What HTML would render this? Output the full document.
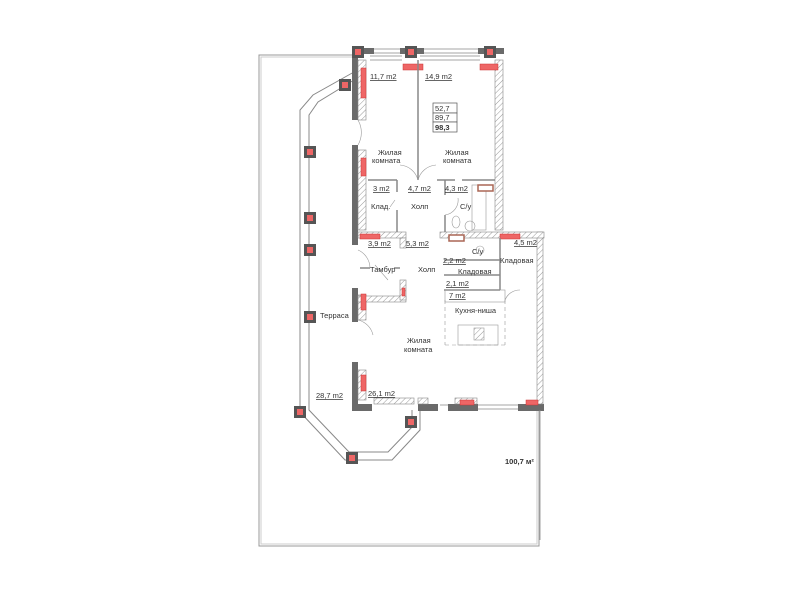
<!DOCTYPE html>
<html><head><meta charset="utf-8"><style>
html,body{margin:0;padding:0;background:#fff;width:800px;height:600px;overflow:hidden}
svg{display:block}
text{font-family:"Liberation Sans",sans-serif;font-size:7.5px;fill:#333}
.u{text-decoration:underline}
</style></head><body>
<svg width="800" height="600" viewBox="0 0 800 600">
<defs>
<pattern id="h" width="4" height="4" patternUnits="userSpaceOnUse" patternTransform="rotate(45)"><rect width="4" height="4" fill="#fff"/><line x1="0" y1="0" x2="0" y2="4" stroke="#999" stroke-width="1"/></pattern>
<g id="col"><rect x="-6" y="-6" width="12" height="12" fill="#555"/><rect x="-3" y="-3" width="6" height="6" fill="#e66"/></g>
</defs>
<g fill="none" stroke="#999" stroke-width="1">
<path d="M355 55 H259 V546 H539 V410"/>
<path d="M355 57 H261 V544 H537 V410" stroke="#ccc"/>
</g>
<g fill="none" stroke="#888" stroke-width="1">
<path d="M354 72 L313 95 L300 110 V412 L345 460 H392 L420 430 V410"/>
<path d="M354 80 L318 102 L309 115 V410 L349 452 H388 L412 427 V410"/>
</g>
<g fill="#6a6a6a">
<rect x="352" y="50" width="6" height="70"/>
<rect x="352" y="145" width="6" height="100"/>
<rect x="352" y="288" width="6" height="34"/>
<rect x="352" y="362" width="6" height="48"/>
<rect x="352" y="404" width="20" height="7"/>
<rect x="352" y="48" width="22" height="6"/>
<rect x="400" y="48" width="24" height="6"/>
<rect x="478" y="48" width="26" height="6"/>
<rect x="418" y="404" width="20" height="7"/>
<rect x="448" y="404" width="30" height="7"/>
<rect x="518" y="404" width="26" height="7"/>
</g>
<g fill="url(#h)" stroke="#888" stroke-width="0.6">
<rect x="358" y="60" width="8" height="60"/>
<rect x="358" y="150" width="8" height="80"/>
<rect x="358" y="295" width="8" height="25"/>
<rect x="358" y="370" width="8" height="30"/>
<rect x="495" y="60" width="8" height="170"/>
<rect x="537" y="232" width="6" height="172"/>
<rect x="358" y="232" width="48" height="6"/>
<rect x="440" y="232" width="104" height="6"/>
<rect x="358" y="296" width="48" height="6"/>
<rect x="400" y="238" width="6" height="10"/>
<rect x="400" y="280" width="6" height="20"/>
<rect x="374" y="398" width="40" height="6"/>
<rect x="418" y="398" width="10" height="6"/>
<rect x="455" y="398" width="22" height="6"/>
</g>
<g stroke="#888" stroke-width="0.8" fill="none">
<path d="M374 49 H400 M374 53 H400 M424 49 H478 M424 53 H478"/>
<path d="M370 56 H402 M370 60 H402 M420 56 H480 M420 60 H480"/>
<path d="M440 405 H448 M478 405 H518 M478 409 H518"/>
<path d="M540 410 V540"/>
</g>
<g fill="#e66" stroke="#c33" stroke-width="0.5">
<rect x="361" y="68" width="5" height="30"/>
<rect x="361" y="158" width="5" height="18"/>
<rect x="361" y="294" width="5" height="16"/>
<rect x="361" y="375" width="5" height="16"/>
<rect x="403" y="64" width="20" height="6"/>
<rect x="480" y="64" width="18" height="6"/>
<rect x="360" y="234" width="20" height="5"/>
<rect x="500" y="234" width="20" height="5"/>
<rect x="460" y="400" width="14" height="5"/>
<rect x="526" y="400" width="12" height="5"/>
<rect x="402" y="288" width="3" height="8"/>
</g>
<g stroke="#888" stroke-width="1.5" fill="none">
<path d="M418 60 V180"/>
<path d="M368 180 H397 M437 180 H455 M462 180 H495"/>
<path d="M397 180 V192 M397 210 V232"/>
<path d="M445 180 V195 M445 215 V232"/>
<path d="M444 260 H500 M444 275 H500 M444 290 H500"/>
<path d="M500 238 V290"/>
<path d="M360 268 H370 M394 268 H400"/>
</g>
<g stroke="#999" stroke-width="0.6" fill="none">
<path d="M358 120 A25 25 0 0 1 358 145 M375 265 L388 280 M418 180 A20 20 0 0 0 400 165 M418 180 A20 20 0 0 1 436 165 M390 207 L395 200 M445 215 A15 15 0 0 0 458 198 M358 320 A20 20 0 0 1 373 335 M358 250 A20 20 0 0 1 370 268 M520 290 A16 16 0 0 0 505 300"/>
<path d="M445 300 V345 M505 300 V345 M445 345 H505" stroke-dasharray="4 3"/>
<rect x="458" y="325" width="40" height="20"/>
<rect x="474" y="328" width="10" height="12" fill="url(#h)"/>
<rect x="445" y="290" width="60" height="12"/>
<rect x="472" y="185" width="14" height="45"/>
<ellipse cx="456" cy="222" rx="4" ry="6"/>
<circle cx="470" cy="226" r="5"/>
<circle cx="480" cy="250" r="4"/>
</g>
<g fill="#fff" stroke="#a65" stroke-width="1.5">
<rect x="478" y="185" width="15" height="6"/>
<rect x="449" y="235" width="15" height="6"/>
</g>
<g stroke="#555" stroke-width="0.7" fill="#fff">
<rect x="433" y="103" width="24" height="10"/>
<rect x="433" y="113" width="24" height="9"/>
<rect x="433" y="122" width="24" height="10"/>
</g>
<text x="435" y="111">52,7</text><text x="435" y="120">89,7</text><text x="435" y="130" font-weight="bold">98,3</text>
<use href="#col" x="358" y="52"/><use href="#col" x="411" y="52"/><use href="#col" x="490" y="52"/>
<use href="#col" x="345" y="85"/><use href="#col" x="310" y="152"/><use href="#col" x="310" y="218"/>
<use href="#col" x="310" y="250"/><use href="#col" x="310" y="317"/><use href="#col" x="300" y="412"/>
<use href="#col" x="352" y="458"/><use href="#col" x="411" y="422"/>
<text x="370" y="79" class="u">11,7 m2</text>
<text x="425" y="79" class="u">14,9 m2</text>
<text x="378" y="155">Жилая</text><text x="372" y="163">комната</text>
<text x="445" y="155">Жилая</text><text x="443" y="163">комната</text>
<text x="373" y="191" class="u">3 m2</text>
<text x="408" y="191" class="u">4,7 m2</text>
<text x="445" y="191" class="u">4,3 m2</text>
<text x="371" y="209">Клад.</text>
<text x="411" y="209">Холп</text>
<text x="460" y="209">С/у</text>
<text x="368" y="246" class="u">3,9 m2</text>
<text x="406" y="246" class="u">5,3 m2</text>
<text x="472" y="254">С/у</text>
<text x="514" y="245" class="u">4,5 m2</text>
<text x="443" y="263" class="u">2,2 m2</text>
<text x="500" y="263">Кладовая</text>
<text x="370" y="272">Тамбур</text>
<text x="418" y="272">Холп</text>
<text x="458" y="274">Кладовая</text>
<text x="446" y="286" class="u">2,1 m2</text>
<text x="449" y="298" class="u">7 m2</text>
<text x="455" y="313">Кухня-ниша</text>
<text x="320" y="318">Терраса</text>
<text x="407" y="343">Жилая</text><text x="404" y="352">комната</text>
<text x="316" y="398" class="u">28,7 m2</text>
<text x="368" y="396" class="u">26,1 m2</text>
<text x="505" y="464" font-weight="bold">100,7 м²</text>
</svg>
</body></html>
